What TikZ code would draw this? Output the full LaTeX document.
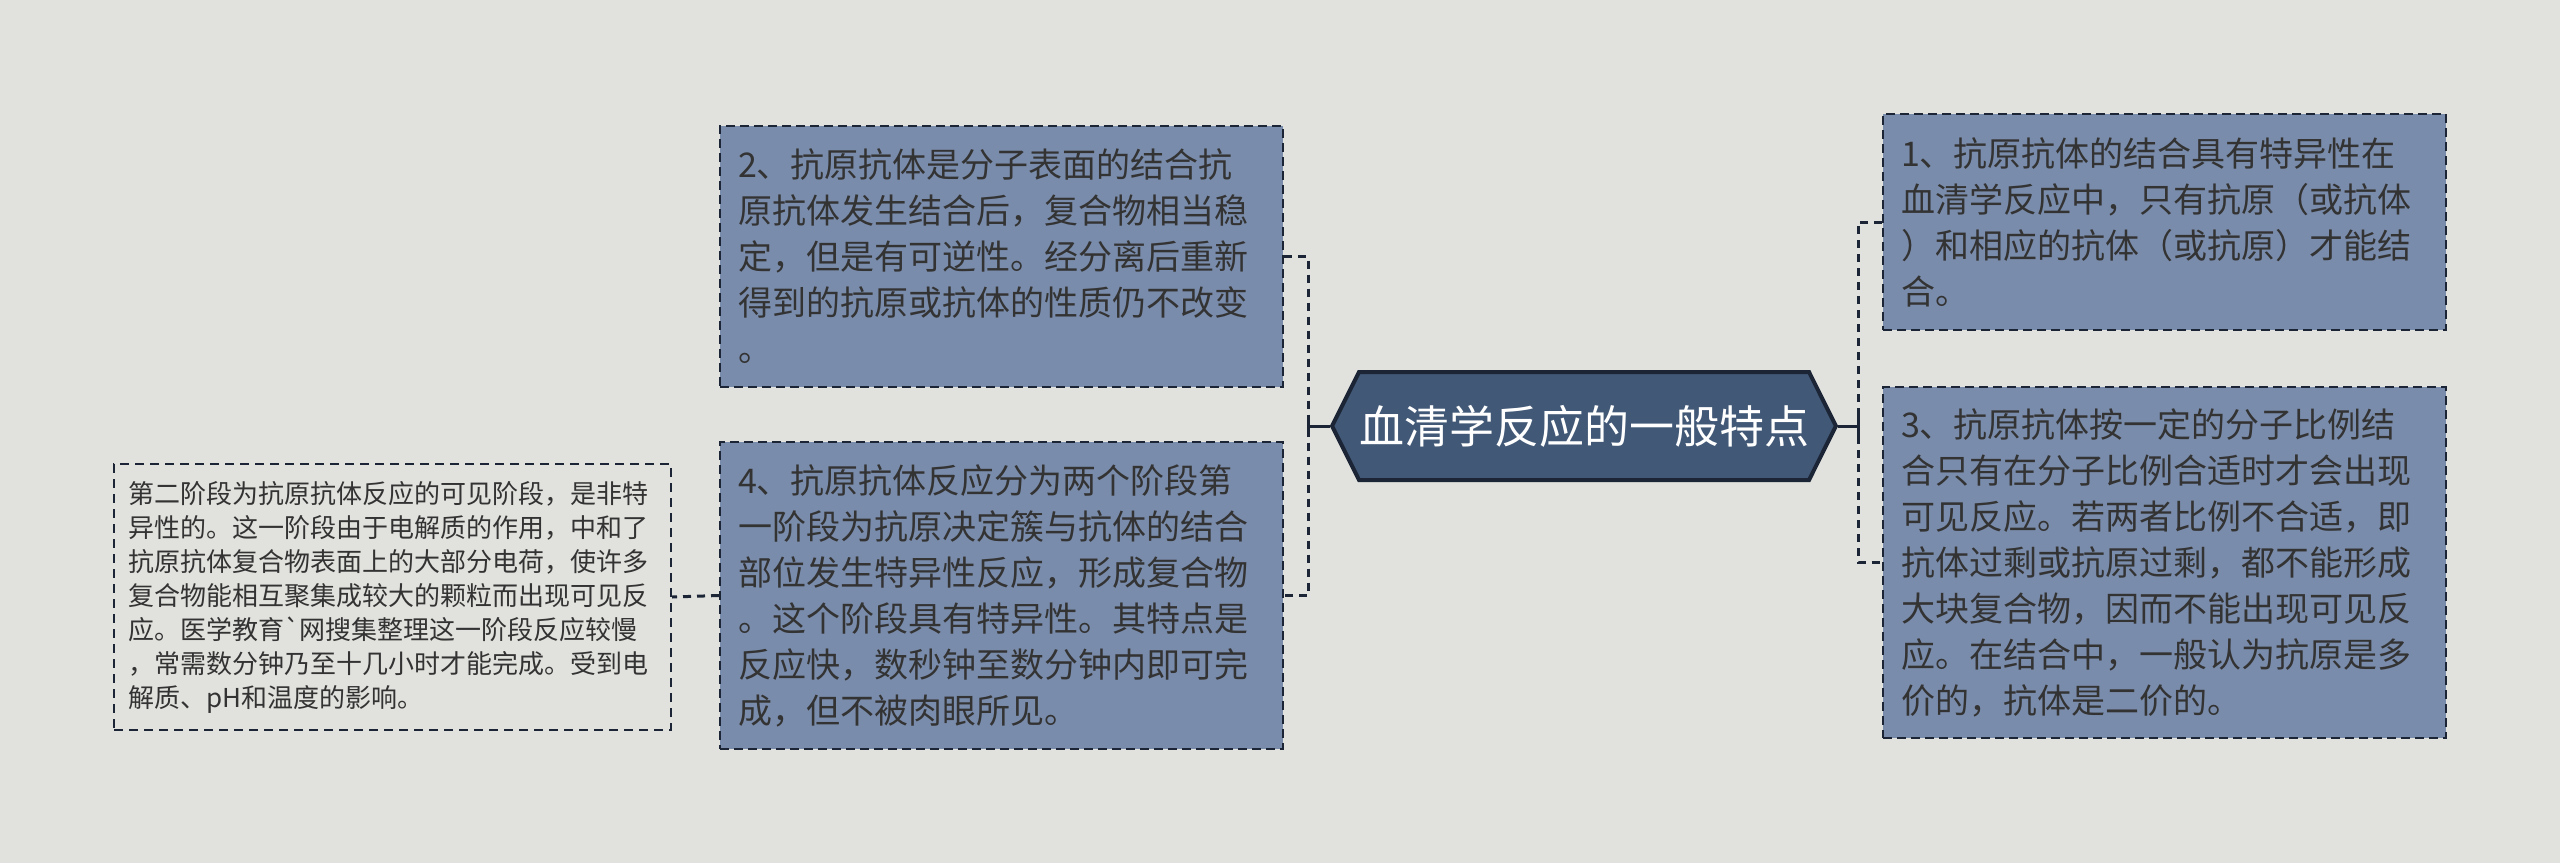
\documentclass[tikz,border=0pt]{standalone}
\usepackage{fontspec}
\newfontfamily\cjk{Noto Sans CJK SC}
\usetikzlibrary{shapes.symbols}
\definecolor{paper}{HTML}{E1E2DD}
\definecolor{cardfill}{HTML}{7A8CAB}
\definecolor{rootfill}{HTML}{415876}
\definecolor{rootline}{HTML}{1B2536}
\definecolor{ink}{HTML}{333333}
\tikzset{
  root/.style={shape=signal,signal to=west and east,signal pointer angle=127,
    draw=rootline,fill=rootfill,line width=4pt,text=white,minimum height=108pt,
    inner xsep=0pt,font=\cjk\fontsize{45pt}{54pt}\selectfont},
  card/.style={draw=rootline,fill=cardfill,line width=2pt,dash pattern=on 9pt off 5pt,
    text=ink,align=left,inner xsep=18pt,inner ysep=0pt,text width=527pt,
    font=\cjk\fontsize{34pt}{46pt}\selectfont},
  note/.style={draw=rootline,line width=2pt,dash pattern=on 9pt off 6pt,
    text=ink,align=left,inner xsep=14pt,inner ysep=0pt,text width=529pt,
    font=\cjk\fontsize{26pt}{34pt}\selectfont},
  link/.style={draw=rootline,line width=3pt,dash pattern=on 8pt off 6pt},
  stem/.style={draw=rootline,line width=3pt}
}
\begin{document}
\begin{tikzpicture}[x=1pt,y=-1pt]
\fill[paper] (0,0) rectangle (2560,863);
\node[root,name=root] at (1584,426){血清学反应的一般特点};
% left side
\node[card,name=b2,minimum height=261pt] at (1001.5,256.5){2、抗原抗体是分子表面的结合抗\\原抗体发生结合后，复合物相当稳\\定，但是有可逆性。经分离后重新\\得到的抗原或抗体的性质仍不改变\\。};
\node[card,name=b4,minimum height=307pt] at (1001.5,595.5){4、抗原抗体反应分为两个阶段第\\一阶段为抗原决定簇与抗体的结合\\部位发生特异性反应，形成复合物\\。这个阶段具有特异性。其特点是\\反应快，数秒钟至数分钟内即可完\\成，但不被肉眼所见。};
\node[note,name=b4a,minimum height=266pt] at (392.5,597){第二阶段为抗原抗体反应的可见阶段，是非特\\异性的。这一阶段由于电解质的作用，中和了\\抗原抗体复合物表面上的大部分电荷，使许多\\复合物能相互聚集成较大的颗粒而出现可见反\\应。医学教育`网搜集整理这一阶段反应较慢\\，常需数分钟乃至十几小时才能完成。受到电\\解质、pH和温度的影响。};
% right side
\node[card,name=b1,minimum height=216pt] at (2164.5,222){1、抗原抗体的结合具有特异性在\\血清学反应中，只有抗原（或抗体\\）和相应的抗体（或抗原）才能结\\合。};
\node[card,name=b3,minimum height=351pt] at (2164.5,562.5){3、抗原抗体按一定的分子比例结\\合只有在分子比例合适时才会出现\\可见反应。若两者比例不合适，即\\抗体过剩或抗原过剩，都不能形成\\大块复合物，因而不能出现可见反\\应。在结合中，一般认为抗原是多\\价的，抗体是二价的。};
% connectors
\coordinate (lj) at (1308,426);
\coordinate (rj) at (1858,426);
\draw[stem] (root.west) -- (lj);
\draw[stem] (root.east) -- (rj);
\draw[stem] ([yshift=-10pt]lj) -- ([yshift=10pt]lj);
\draw[stem] ([yshift=-10pt]rj) -- ([yshift=10pt]rj);
\draw[link] (b2.east) -- (b2.east -| lj) -- (b4.east -| lj) -- (b4.east);
\draw[link] (b1.west) -- (b1.west -| rj) -- (b3.west -| rj) -- (b3.west);
\draw[link] (b4.west) -- (b4a.east);
\end{tikzpicture}
\end{document}
